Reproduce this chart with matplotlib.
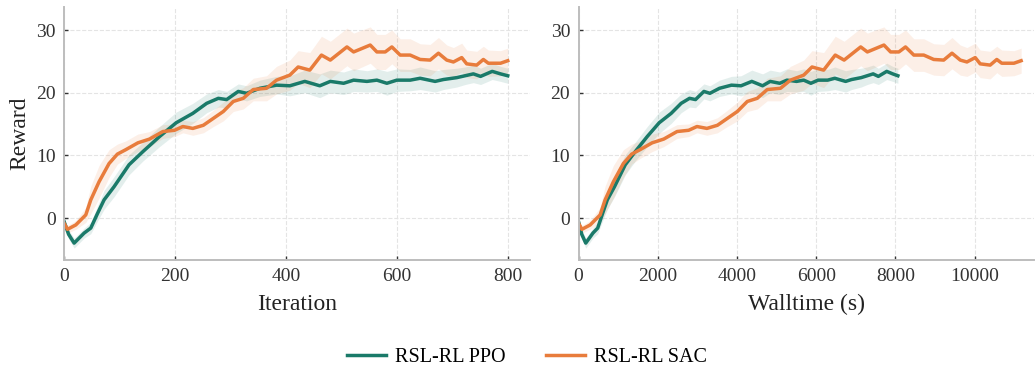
import matplotlib
matplotlib.use("Agg")

import numpy as np
import matplotlib.pyplot as plt

# ================= DATA =================
PPO_ITER = [0, 8, 18, 36, 48, 60, 72, 90, 117, 142, 172, 202, 232, 257, 278,
            293, 314, 329, 353, 383, 407, 434, 461, 480, 504, 522, 546, 564,
            582, 600, 624, 642, 669, 684, 708, 723, 738, 751, 772, 787, 800]
PPO_REWARD = [-0.6, -2.6, -4.0, -2.4, -1.6, 0.7, 2.9, 5.0, 8.5, 10.6, 13.0,
              15.2, 16.7, 18.3, 19.1, 18.9, 20.2, 19.9, 20.7, 21.2, 21.1, 21.8,
              21.1, 21.8, 21.5, 22.0, 21.8, 22.0, 21.5, 22.0, 22.0, 22.3, 21.8,
              22.1, 22.4, 22.7, 23.0, 22.6, 23.4, 23.0, 22.7]
PPO_SPREAD = [0.5, 0.7, 0.8, 0.8, 0.9, 1.2, 1.5, 1.6, 1.6, 1.5, 1.6, 1.7, 1.6,
              1.5, 1.4, 1.3, 1.2, 1.2, 1.3, 1.4, 1.6, 1.8, 1.9, 1.8, 1.8, 1.8,
              1.7, 1.8, 1.9, 1.8, 1.7, 1.8, 1.7, 1.6, 1.5, 1.4, 1.4, 1.3, 1.3,
              1.2, 1.2]

SAC_ITER = [0, 6, 21, 39, 48, 63, 81, 96, 111, 133, 154, 178, 199, 214, 232,
            251, 269, 287, 305, 323, 341, 365, 383, 407, 422, 443, 464, 480,
            510, 522, 552, 564, 579, 591, 606, 624, 642, 660, 675, 690, 702,
            717, 726, 744, 756, 765, 787, 800]
SAC_REWARD = [-0.85, -1.8, -1.1, 0.5, 2.9, 5.8, 8.7, 10.2, 10.9, 12.0, 12.6,
              13.8, 14.0, 14.6, 14.3, 14.8, 15.9, 17.0, 18.6, 19.1, 20.5, 20.7,
              22.0, 22.8, 24.1, 23.6, 26.0, 25.2, 27.3, 26.5, 27.6, 26.5, 26.5,
              27.3, 26.0, 26.0, 25.3, 25.2, 26.3, 25.2, 24.9, 25.6, 24.6, 24.4,
              25.3, 24.7, 24.7, 25.1]
SAC_SPREAD = [0.5, 0.6, 0.7, 1.2, 2.2, 2.6, 2.2, 1.6, 1.4, 1.4, 1.2, 1.1, 1.0,
              1.0, 1.1, 1.2, 1.3, 1.5, 1.6, 1.7, 1.8, 2.0, 2.2, 2.4, 2.6, 2.8,
              3.0, 3.0, 3.0, 3.0, 2.9, 2.8, 2.8, 2.7, 2.6, 2.6, 2.5, 2.5, 2.5,
              2.4, 2.3, 2.3, 2.2, 2.2, 2.1, 2.1, 2.0, 2.0]

# seconds of walltime per training iteration (from where each run ends)
PPO_SEC_PER_ITER = 10.08
SAC_SEC_PER_ITER = 13.97

LABELS = ["RSL-RL PPO", "RSL-RL SAC"]
ITER_TICKS = [0, 200, 400, 600, 800]
TIME_TICKS = [0, 2000, 4000, 6000, 8000, 10000]
Y_TICKS = [0, 10, 20, 30]
# =================================================================

PPO_COLOR = "#1a7a69"
SAC_COLOR = "#e87c3c"
FONT = ["Liberation Serif", "DejaVu Serif"]


def style_axes(ax, xticks, xlim, xlabel) -> None:
    ax.set_xlim(*xlim)
    ax.set_ylim(-6.7, 33.6)
    ax.set_xticks(xticks)
    ax.set_yticks(Y_TICKS)
    ax.grid(True, color="#e4e4e4", linestyle="--", linewidth=0.8)
    ax.set_axisbelow(True)
    for side in ("top", "right"):
        ax.spines[side].set_visible(False)
    for side in ("left", "bottom"):
        ax.spines[side].set_color("#bdbdbd")
        ax.spines[side].set_linewidth(1.4)
    ax.tick_params(direction="in", length=3, width=1, color="#333333",
                   labelsize=14, labelcolor="#333333", pad=6)
    ax.set_xlabel(xlabel, fontsize=17, color="#222222", labelpad=6)


def draw_run(ax, x, y, spread, color, label) -> None:
    x = np.asarray(x, dtype=float)
    y = np.asarray(y, dtype=float)
    s = np.asarray(spread, dtype=float)
    ax.fill_between(x, y - s, y + s, color=color, alpha=0.12, linewidth=0)
    ax.plot(x, y, color=color, linewidth=2.5, label=label)


def main():
    plt.rcParams["font.family"] = FONT

    fig = plt.figure(figsize=(10.35, 3.72), dpi=100)
    ax1 = fig.add_axes([0.062, 0.301, 0.450, 0.679])
    ax2 = fig.add_axes([0.559, 0.301, 0.440, 0.679])

    # ===== Iteration panel =====
    draw_run(ax1, PPO_ITER, PPO_REWARD, PPO_SPREAD, PPO_COLOR, LABELS[0])
    draw_run(ax1, SAC_ITER, SAC_REWARD, SAC_SPREAD, SAC_COLOR, LABELS[1])
    style_axes(ax1, ITER_TICKS, (0, 840), "Iteration")
    ax1.set_ylabel("Reward", fontsize=17, color="#222222", labelpad=4)

    # ===== Walltime panel =====
    ppo_time = np.asarray(PPO_ITER) * PPO_SEC_PER_ITER
    sac_time = np.asarray(SAC_ITER) * SAC_SEC_PER_ITER
    draw_run(ax2, ppo_time, PPO_REWARD, PPO_SPREAD, PPO_COLOR, LABELS[0])
    draw_run(ax2, sac_time, SAC_REWARD, SAC_SPREAD, SAC_COLOR, LABELS[1])
    style_axes(ax2, TIME_TICKS, (0, 11500), "Walltime (s)")

    handles, labels = ax1.get_legend_handles_labels()
    fig.legend(handles, labels, loc="center", bbox_to_anchor=(0.509, 0.038),
               ncol=2, frameon=False, fontsize=14.5, handlelength=1.95,
               handletextpad=0.45, columnspacing=2.0)

    fig.savefig("out.png", dpi=100)
    plt.close(fig)


if __name__ == "__main__":
    main()
